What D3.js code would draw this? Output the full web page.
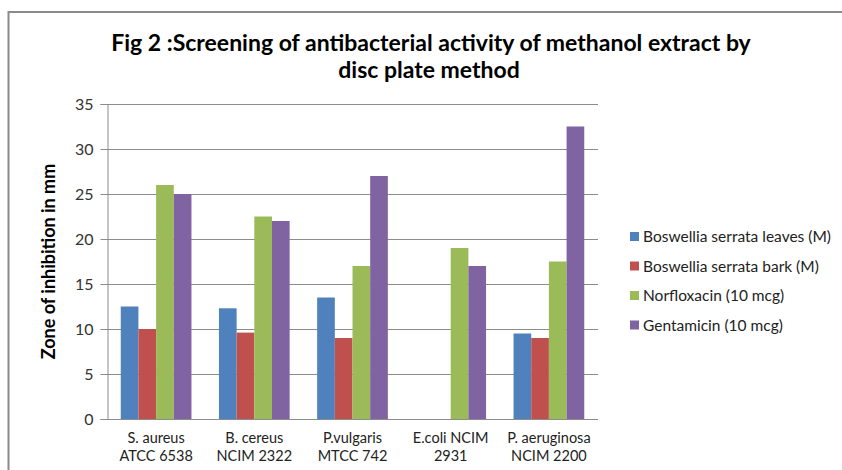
<!DOCTYPE html>
<html>
<head>
<meta charset="utf-8">
<script src="https://cdn.jsdelivr.net/npm/d3@7/dist/d3.min.js"></script>
<style>
  html, body { margin: 0; padding: 0; background: #fff; }
  svg { display: block; font-family: Lato, "Open Sans", "Liberation Sans", sans-serif; }
</style>
</head>
<body>
<svg id="chart" width="842" height="470"></svg>
<script>
// Organisms tested (two-line labels)
const categories = [
  ["S. aureus", "ATCC 6538"],
  ["B. cereus", "NCIM 2322"],
  ["P.vulgaris", "MTCC 742"],
  ["E.coli NCIM", "2931"],
  ["P. aeruginosa", "NCIM 2200"]
];
const seriesNames = [
  "Boswellia serrata leaves (M)",
  "Boswellia serrata bark (M)",
  "Norfloxacin (10 mcg)",
  "Gentamicin (10 mcg)"
];
// Zone of inhibition (mm), one array per series
const leaves      = [12.5, 12.3, 13.5, 0, 9.5];
const bark        = [10, 9.6, 9, 0, 9];
const norfloxacin = [26, 22.5, 17, 19, 17.5];
const gentamicin  = [25, 22, 27, 17, 32.5];
const yTicks = [0, 5, 10, 15, 20, 25, 30, 35];

const seriesValues = [leaves, bark, norfloxacin, gentamicin];
const colors = ["#4F81BD", "#C0504D", "#9BBB59", "#8064A2"];

const svg = d3.select("#chart");

// Outer chart border
svg.append("rect")
  .attr("x", 8.5).attr("y", 12).attr("width", 850).attr("height", 480)
  .attr("fill", "none").attr("stroke", "#8a8a8a").attr("stroke-width", 2);

// Title
const title = svg.append("text")
  .attr("text-anchor", "middle")
  .attr("font-weight", "bold")
  .attr("font-size", 23)
  .attr("fill", "#000");
title.append("tspan").attr("x", 431).attr("y", 51)
  .text("Fig 2 :Screening of antibacterial activity of methanol extract by");
title.append("tspan").attr("x", 429).attr("y", 78)
  .text("disc plate method");

const plot = { left: 107, right: 598, top: 104, bottom: 419 };

const x0 = d3.scaleBand()
  .domain(d3.range(categories.length))
  .range([plot.left, plot.right])
  .paddingInner(0.28)
  .paddingOuter(0.14);
const x1 = d3.scaleBand()
  .domain(d3.range(seriesNames.length))
  .range([0, x0.bandwidth()]);
const y = d3.scaleLinear().domain([0, 35]).range([plot.bottom, plot.top]);

// Gridlines
svg.append("g")
  .selectAll("line")
  .data(yTicks.filter(t => t > 0))
  .join("line")
  .attr("x1", plot.left).attr("x2", plot.right)
  .attr("y1", d => y(d) + 0.5).attr("y2", d => y(d) + 0.5)
  .attr("stroke", "#8c8c8c").attr("stroke-width", 1);

// Y axis
const yAxis = svg.append("g")
  .attr("transform", `translate(${plot.left + 0.5},0)`)
  .call(d3.axisLeft(y).tickValues(yTicks).tickSize(7).tickPadding(7));
yAxis.select(".domain").attr("stroke", "#8c8c8c");
yAxis.selectAll(".tick line").attr("stroke", "#8c8c8c");
yAxis.selectAll(".tick text")
  .attr("font-size", 16).attr("fill", "#333")
  .attr("font-family", "Lato, 'Open Sans', sans-serif");

// Y axis title
svg.append("text")
  .attr("transform", `translate(55,${(plot.top + plot.bottom) / 2}) rotate(-90)`)
  .attr("text-anchor", "middle")
  .attr("font-weight", "bold")
  .attr("font-size", 18)
  .text("Zone of inhibition in mm");

// Bars
const groups = svg.append("g")
  .selectAll("g")
  .data(categories.map((c, i) => i))
  .join("g")
  .attr("transform", i => `translate(${x0(i)},0)`);
groups.selectAll("rect")
  .data(i => seriesValues.map((vals, s) => ({ s, v: vals[i] })))
  .join("rect")
  .filter(d => d.v > 0)
  .attr("x", d => x1(d.s))
  .attr("width", x1.bandwidth())
  .attr("y", d => y(d.v))
  .attr("height", d => y(0) - y(d.v))
  .attr("fill", d => colors[d.s]);

// X axis baseline
svg.append("line")
  .attr("x1", plot.left).attr("x2", plot.right)
  .attr("y1", plot.bottom + 0.5).attr("y2", plot.bottom + 0.5)
  .attr("stroke", "#8c8c8c");

// Category labels
const catLabels = svg.append("g")
  .selectAll("text")
  .data(categories)
  .join("text")
  .attr("text-anchor", "middle")
  .attr("font-size", 14.5)
  .attr("fill", "#222");
catLabels.each(function (d, i) {
  const cx = x0(i) + x0.bandwidth() / 2;
  d3.select(this).selectAll("tspan")
    .data(d)
    .join("tspan")
    .attr("x", cx)
    .attr("y", (t, k) => 443 + k * 18)
    .text(t => t);
});

// Legend
const legend = svg.append("g")
  .selectAll("g")
  .data(seriesNames)
  .join("g")
  .attr("transform", (d, i) => `translate(630,${237 + i * 29.5})`);
legend.append("rect")
  .attr("x", 0).attr("y", -5).attr("width", 9).attr("height", 9)
  .attr("fill", (d, i) => colors[i]);
legend.append("text")
  .attr("x", 13).attr("y", 0).attr("dy", "0.35em")
  .attr("font-size", 15.5).attr("fill", "#222")
  .text(d => d);
</script>
</body>
</html>
